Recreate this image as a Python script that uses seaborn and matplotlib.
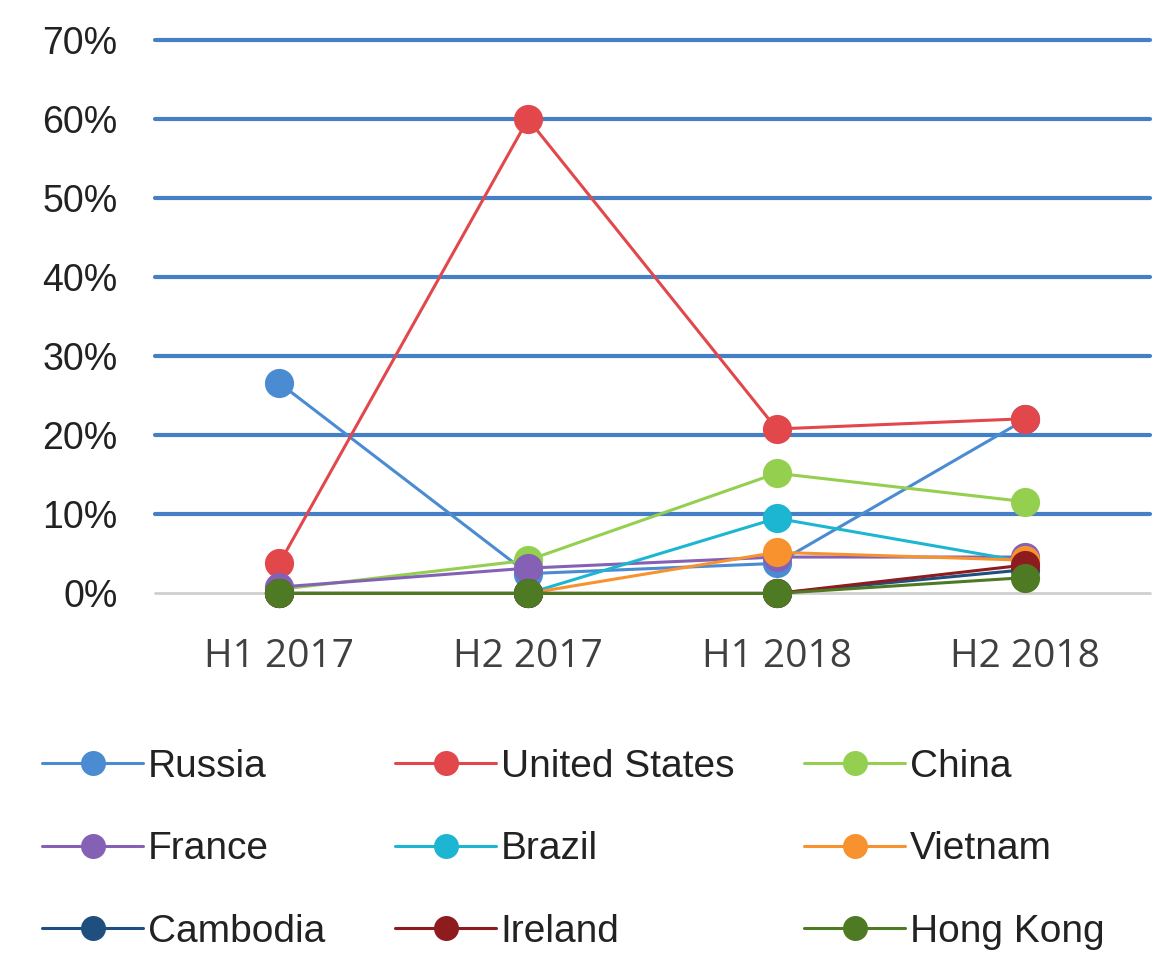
import matplotlib
matplotlib.use("Agg")
import matplotlib.pyplot as plt
import seaborn as sns
import pandas as pd
from matplotlib.ticker import FuncFormatter

periods = ["H1 2017", "H2 2017", "H1 2018", "H2 2018"]
countries = ["Russia", "United States", "China", "France", "Brazil",
             "Vietnam", "Cambodia", "Ireland", "Hong Kong"]
russia = [26.6, 2.5, 3.8, 22.0]
united_states = [3.8, 60.0, 20.8, 22.1]
china = [0.5, 4.2, 15.2, 11.6]
france = [0.8, 3.2, 4.6, 4.6]
brazil = [0.0, 0.0, 9.5, 4.0]
vietnam = [0.0, 0.0, 5.2, 4.2]
cambodia = [0.0, 0.0, 0.0, 3.0]
ireland = [0.0, 0.0, 0.0, 3.6]
hong_kong = [0.0, 0.0, 0.0, 2.0]
series = [russia, united_states, china, france, brazil, vietnam,
          cambodia, ireland, hong_kong]
colors = ["#4A8BD2", "#E2474C", "#94CF4F", "#8461B4", "#1DB6D2",
          "#F7922E", "#1E4F7F", "#8E1B1E", "#4F7A24"]

rows = []
for c, vals in zip(countries, series):
    for i, v in enumerate(vals):
        rows.append({"country": c, "x": i, "value": v})
df = pd.DataFrame(rows)

sns.set_theme(style="white")
plt.rcParams["font.family"] = ["Liberation Sans", "DejaVu Sans"]

fig = plt.figure(figsize=(11.66, 9.76), dpi=100)
ax = fig.add_axes([0.133, 0.392, 0.853, 0.567])

for y in range(10, 71, 10):
    ax.axhline(y, color="#4580C6", lw=3.0, zorder=0)
ax.axhline(0, color="#CFCFCF", lw=2.0, zorder=0)

sns.lineplot(data=df, x="x", y="value", hue="country", hue_order=countries,
             palette=colors, marker="o", markersize=21, markeredgewidth=0,
             linewidth=2.2, ax=ax, legend=True, sort=False, errorbar=None)
for ln in ax.lines:
    ln.set_clip_on(False)

ax.set_xlim(-0.5, 3.5)
ax.set_ylim(0, 70)
ax.set_yticks(range(0, 71, 10))
ax.yaxis.set_major_formatter(FuncFormatter(lambda v, p: f"{int(v)}%"))
ax.set_xticks(range(4))
ax.set_xticklabels(periods, fontfamily=["Open Sans", "DejaVu Sans"], fontsize=28, color="#404040")
ax.tick_params(axis="y", labelsize=27, colors="#222222", pad=27, length=0)
ax.tick_params(axis="x", pad=32, length=0)
ax.set_xlabel("")
ax.set_ylabel("")
for s in ax.spines.values():
    s.set_visible(False)
ax.grid(False)

handles, labels = ax.get_legend_handles_labels()
ax.get_legend().remove()
hmap = dict(zip(labels, handles))
order = ["Russia", "France", "Cambodia", "United States", "Brazil", "Ireland",
         "China", "Vietnam", "Hong Kong"]
hs = []
for name in order:
    h = hmap[name]
    h.set_markersize(18)
    hs.append(h)
fig.legend(hs, order, ncol=3, loc="upper left", bbox_to_anchor=(0.036, 0.233),
           frameon=False, fontsize=28, handlelength=2.6, handletextpad=0.12,
           columnspacing=1.8, labelspacing=1.2, labelcolor="#222222",
           borderpad=0, borderaxespad=0)

fig.savefig("out.png", dpi=100)
